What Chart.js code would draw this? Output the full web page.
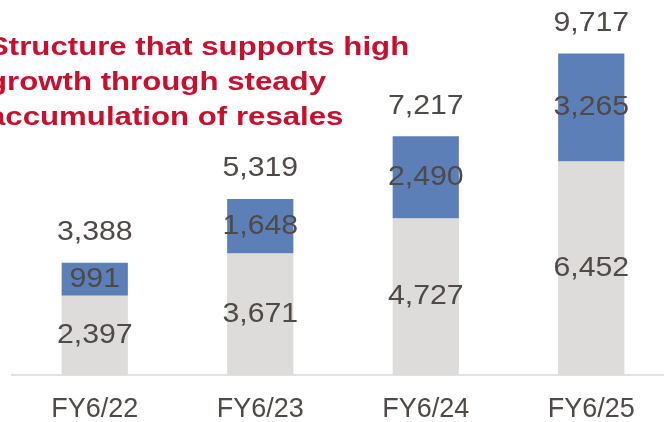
<!DOCTYPE html>
<html>
<head>
<meta charset="utf-8">
<script src="https://cdn.jsdelivr.net/npm/chart.js@4.4.1/dist/chart.umd.min.js"></script>
<style>
  html, body { margin: 0; padding: 0; background: #ffffff; overflow: hidden; width: 664px; height: 422px; }
  #wrap { position: relative; width: 680px; height: 422px; }
  #title {
    position: absolute; left: -12px; top: 29px;
    font-family: "Liberation Sans", Arial, sans-serif; font-weight: bold;
    font-size: 26px; line-height: 35px; color: #c8102e;
    transform: scaleX(1.2); transform-origin: left top; white-space: nowrap;
  }
</style>
</head>
<body>
<div id="wrap">
  <canvas id="c" width="680" height="422"></canvas>
  <div id="title">Structure that supports high<br>growth through steady<br>accumulation of resales</div>
</div>
<script>
const categories = ['FY6/22', 'FY6/23', 'FY6/24', 'FY6/25'];
const baseValues = [2397, 3671, 4727, 6452];
const resaleValues = [991, 1648, 2490, 3265];

const TEXT = '#4f4a47';
const FONT = '"Liberation Sans", Arial, sans-serif';

function drawStretched(ctx, text, x, y, size, k) {
  ctx.save();
  ctx.translate(x, y);
  ctx.scale(k, 1);
  ctx.font = size + 'px ' + FONT;
  ctx.fillStyle = TEXT;
  ctx.textAlign = 'center';
  ctx.textBaseline = 'middle';
  ctx.fillText(text, 0, 0);
  ctx.restore();
}

const labelPlugin = {
  id: 'valueLabels',
  afterDatasetsDraw(chart) {
    const ctx = chart.ctx;
    const fmt = v => v.toLocaleString('en-US');
    chart.data.datasets.forEach((ds, i) => {
      const meta = chart.getDatasetMeta(i);
      meta.data.forEach((bar, j) => {
        const cy = (bar.y + bar.base) / 2;
        drawStretched(ctx, fmt(ds.data[j]), bar.x, cy, 27, 1.12);
      });
    });
    const topMeta = chart.getDatasetMeta(chart.data.datasets.length - 1);
    topMeta.data.forEach((bar, j) => {
      const total = chart.data.datasets.reduce((s, ds) => s + ds.data[j], 0);
      drawStretched(ctx, fmt(total), bar.x, bar.y - 30, 27, 1.12);
    });
  }
};

new Chart(document.getElementById('c'), {
  type: 'bar',
  data: {
    labels: categories,
    datasets: [
      { label: 'Base', data: baseValues, backgroundColor: '#dedcda', borderWidth: 0,
        barPercentage: 0.4, categoryPercentage: 1.0 },
      { label: 'Resales', data: resaleValues, backgroundColor: '#5b7fb6', borderWidth: 0,
        barPercentage: 0.4, categoryPercentage: 1.0 }
    ]
  },
  options: {
    responsive: false,
    animation: false,
    layout: { padding: { left: 12, right: 6, top: 0, bottom: 0 } },
    plugins: { legend: { display: false }, tooltip: { enabled: false }, title: { display: false } },
    scales: {
      x: {
        stacked: true,
        grid: { display: false, drawTicks: false },
        border: { display: true, color: '#e2e2e2', width: 2 },
        ticks: { color: TEXT, font: { family: FONT, size: 27, lineHeight: 1 }, padding: 21, maxRotation: 0 },
        afterFit(scale) { scale.height = 47; }
      },
      y: { stacked: true, display: false, min: 0, max: 11330 }
    }
  },
  plugins: [labelPlugin]
});
</script>
</body>
</html>
